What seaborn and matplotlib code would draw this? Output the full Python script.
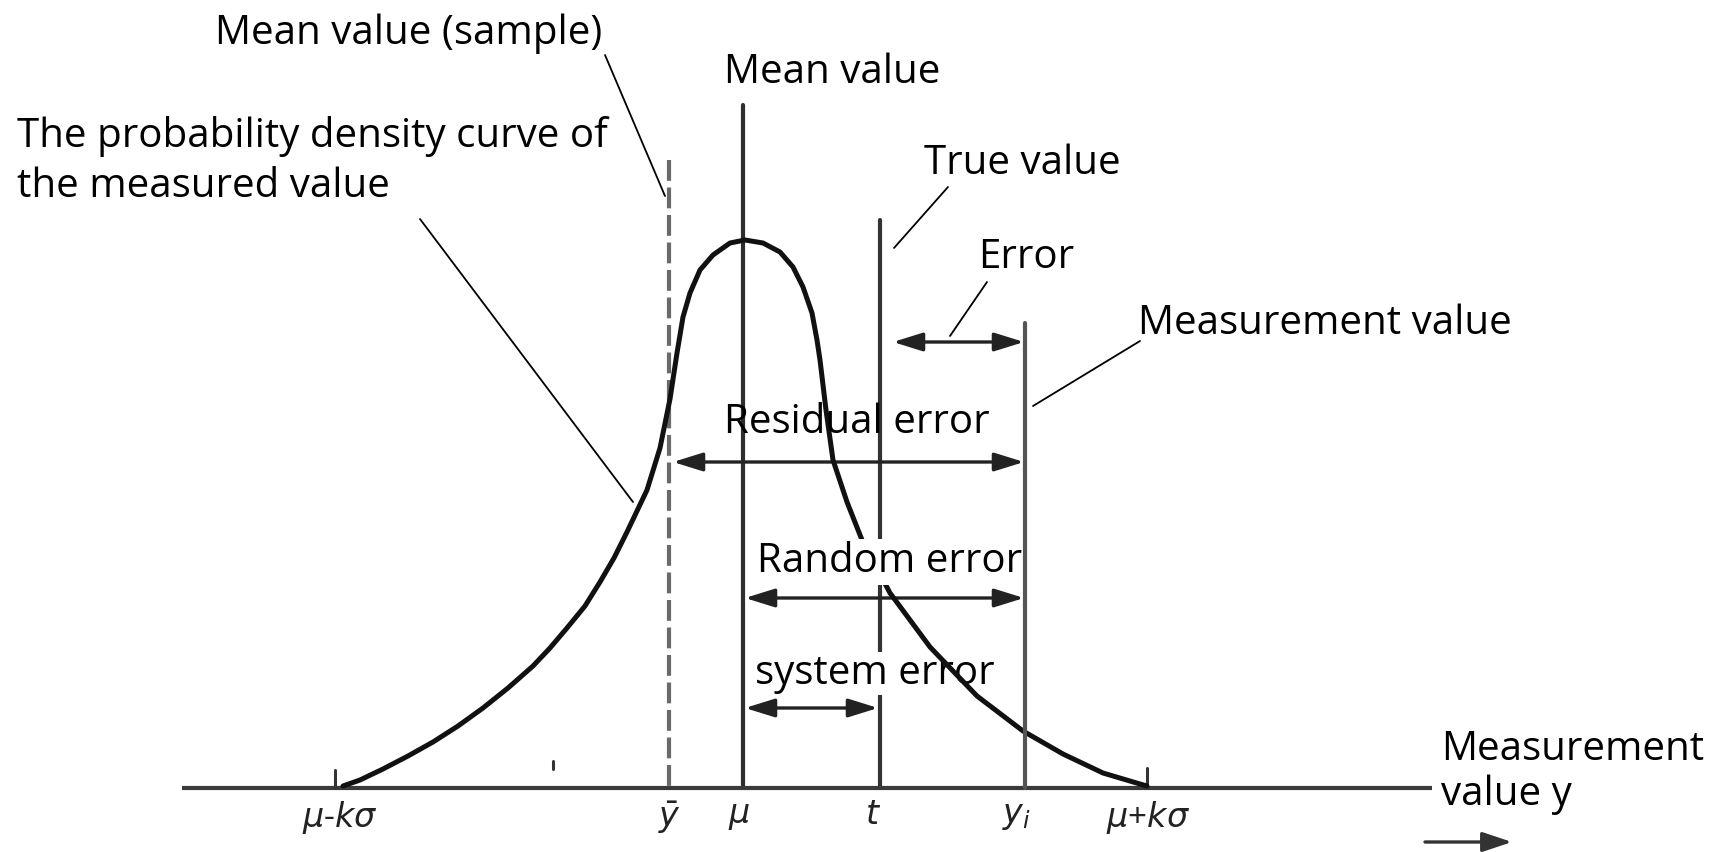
import matplotlib
matplotlib.use("Agg")
import matplotlib.pyplot as plt
import seaborn as sns
import pandas as pd
from matplotlib.patches import ArrowStyle

# Diagram coordinates (pixels, y downwards)
baseline_y = 788
baseline_x = [182, 1432]

# Probability density curve (asymmetric bell)
curve_x = [343, 360, 383, 408, 433, 458, 483, 508, 533, 550, 567, 585, 600, 614,
           627, 647, 660, 670, 677, 683, 690, 700, 713, 730, 745, 763, 780, 793,
           803, 812, 817, 820, 826, 833, 847, 862, 890, 930, 977, 1023, 1063, 1103,
           1140, 1147]
curve_y = [786, 780, 769, 756, 742, 726, 708, 688, 666, 648, 628, 606, 582, 558,
           532, 490, 448, 399, 353, 317, 293, 270, 255, 243, 240, 243, 252, 267,
           287, 313, 340, 360, 410, 460, 502, 540, 593, 647, 696, 731, 754, 773,
           784, 786]

# Vertical reference lines: sample mean, mean, true value, measured value
vline_names = ["y_bar", "mu", "t", "y_i"]
vline_x = [669, 743, 880, 1025]
vline_top = [160, 105, 220, 323]

# Small ticks at mu-k*sigma and mu+k*sigma (and the stray mark)
tick_x = [335, 1147, 553]
tick_top = [770, 768, 761]
tick_bottom = [788, 786, 769]

# Axis labels under the baseline
axis_labels = [r"$\mu$-$k\sigma$", r"$\bar{y}$", r"$\mu$", r"$t$", r"$y_i$", r"$\mu$+$k\sigma$"]
axis_label_x = [340, 669, 739, 873, 1016, 1148]

# Double-headed error arrows
arrow_names = ["Error", "Residual error", "Random error", "system error"]
arrow_start = [893, 673, 745, 745]
arrow_end = [1024, 1024, 1024, 878]
arrow_y = [342, 462, 598, 708]

# Text labels
label_text = ["Mean value (sample)", "Mean value", "The probability density curve of",
              "the measured value", "True value", "Error", "Measurement value",
              "Residual error", "Random error", "system error", "Measurement", "value y"]
label_x = [215, 724, 17, 17, 924, 978, 1138, 724, 757, 755, 1441, 1441]
label_y = [44, 83, 147, 197, 174, 268, 334, 433, 572, 684, 760, 805]

# Leader lines from labels to their marks
leader_x0 = [605, 420, 948, 987, 1140]
leader_y0 = [55, 219, 187, 282, 341]
leader_x1 = [665, 633, 894, 950, 1033]
leader_y1 = [196, 502, 248, 336, 406]

sns.set_theme(style="white")
plt.rcParams["font.family"] = ["Open Sans", "DejaVu Sans"]
plt.rcParams["mathtext.fontset"] = "dejavusans"

fig = plt.figure(figsize=(17.33, 8.52), dpi=100)
ax = fig.add_axes([0, 0, 1, 1])

# baseline
ax.plot(baseline_x, [baseline_y, baseline_y], color="#3a3a3a", lw=3, solid_capstyle="butt", zorder=2)

# vertical lines (the y_i line stays in front of the label boxes)
line_cols = {"y_bar": "#6a6a6a", "mu": "#2e2e2e", "t": "#333333", "y_i": "#555555"}
for name, x, top in zip(vline_names, vline_x, vline_top):
    ls = (0, (5, 1.6)) if name == "y_bar" else "-"
    z = 7 if name == "y_i" else 1
    ax.plot([x, x], [top, baseline_y], color=line_cols[name], lw=3, ls=ls, zorder=z)

for x, t, b in zip(tick_x, tick_top, tick_bottom):
    ax.plot([x, x], [t, b], color="#333333", lw=2.2, zorder=2)

# density curve
curve = pd.DataFrame({"x": curve_x, "y": curve_y})
sns.lineplot(data=curve, x="x", y="y", sort=False, estimator=None, color="#111111",
             lw=3.6, ax=ax, zorder=4)
ax.lines[-1].set_solid_joinstyle("round")
ax.set_xlim(0, 1733)
ax.set_ylim(852, 0)
ax.axis("off")

# arrows
style = ArrowStyle("<|-|>", head_length=0.9, head_width=0.28)
for x0, x1, y in zip(arrow_start, arrow_end, arrow_y):
    ax.annotate("", xy=(x1, y), xytext=(x0, y),
                arrowprops=dict(arrowstyle=style, color="#222222", lw=2.4,
                                mutation_scale=20, shrinkA=0, shrinkB=0), zorder=3)

# direction arrow at bottom right
ax.annotate("", xy=(1512, 842), xytext=(1425, 842),
            arrowprops=dict(arrowstyle=ArrowStyle("-|>", head_length=0.9, head_width=0.3),
                            color="#333333", lw=2.4, mutation_scale=20,
                            shrinkA=0, shrinkB=0))

# leader lines
for x0, y0, x1, y1 in zip(leader_x0, leader_y0, leader_x1, leader_y1):
    ax.plot([x0, x1], [y0, y1], color="black", lw=1.3, zorder=5)

# labels
for txt, x, y in zip(label_text, label_x, label_y):
    kw = {"zorder": 6}
    if txt == "Random error":
        kw["bbox"] = dict(facecolor="white", edgecolor="none", pad=2)
    elif txt == "system error":
        kw["bbox"] = dict(facecolor="white", edgecolor="none", pad=1)
        kw["zorder"] = 3.5
    ax.text(x, y, txt, fontsize=29, color="black", ha="left", va="baseline", **kw)

for lab, x in zip(axis_labels, axis_label_x):
    ax.text(x, 799, lab, fontsize=24, color="#222222", ha="center", va="top")

fig.savefig("out.png", dpi=100)
